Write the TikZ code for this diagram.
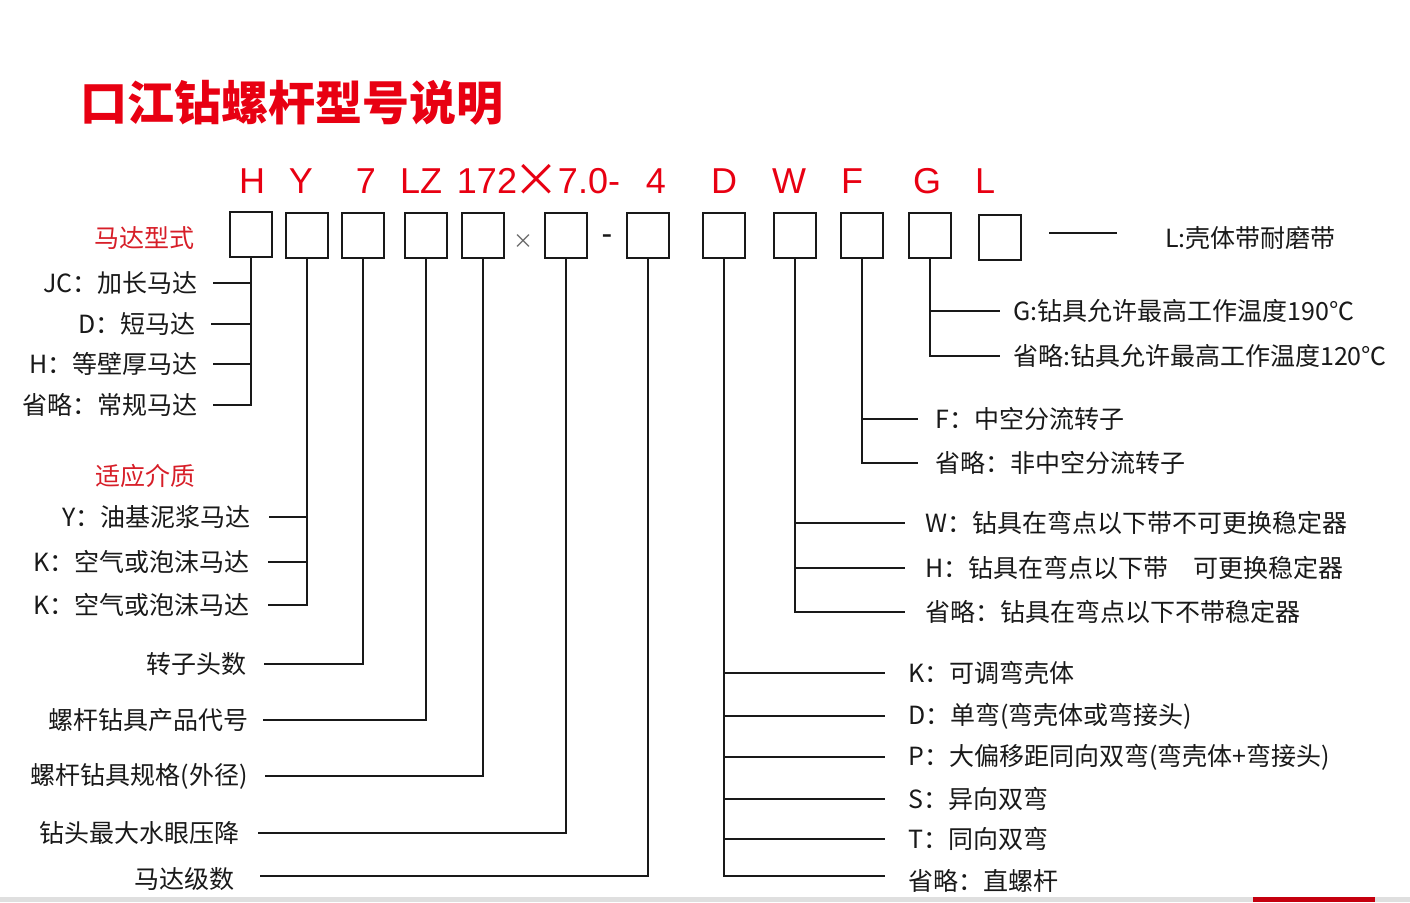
\documentclass[tikz,border=0pt]{standalone}
\usepackage{fontspec}
\setmainfont{Noto Sans CJK SC}
\newfontfamily\arialf{Liberation Sans}
\definecolor{tred}{RGB}{232,0,18}
\definecolor{lred}{RGB}{215,30,40}
\definecolor{ink}{RGB}{25,25,25}
\begin{document}
\begin{tikzpicture}[x=1pt,y=-1pt,
  conn/.style={line width=2pt, ink},
  cbox/.style={draw=ink, line width=2pt, minimum width=42pt, minimum height=45pt, inner sep=0pt},
  lbl/.style={font=\fontsize{25}{25}\selectfont, text=ink, inner sep=0pt},
  head/.style={lbl, text=lred},
  codel/.style={font=\arialf\fontsize{36}{36}\selectfont, text=tred, inner sep=0pt},
  titl/.style={font=\bfseries\fontsize{47}{47}\selectfont, text=tred, inner sep=0pt}]
\useasboundingbox (0,0) rectangle (1410,902);
\fill[white] (0,0) rectangle (1410,902);

% title
\node[titl, anchor=west] (title) at (80,103) {口江钻螺杆型号说明};

% code letters
\node[codel] (cH) at (252,181) {H};
\node[codel] (cY) at (301,181) {Y};
\node[codel] (c7) at (366,181) {7};
\node[codel] (cLZ) at (421,181) {LZ};
\node[codel] (c172) at (487,181) {172};
\node[font=\fontsize{46}{46}\selectfont, text=tred, inner sep=0pt] (cx) at (536,180) {×};
\node[codel] (c70) at (589,181) {7.0-};
\node[codel] (c4) at (656,181) {4};
\node[codel] (cD) at (724,181) {D};
\node[codel] (cW) at (789,181) {W};
\node[codel] (cF) at (852,181) {F};
\node[codel] (cG) at (927,181) {G};
\node[codel] (cL) at (985,181) {L};

% boxes
\node[cbox] (b1) at (250.5,234.5) {};
\node[cbox] (b2) at (306.5,235.5) {};
\node[cbox] (b3) at (363,235.5) {};
\node[cbox] (b4) at (425.5,235.5) {};
\node[cbox] (b5) at (482.5,235.5) {};
\node[font=\fontsize{20}{20}\selectfont, text=gray!80!black, inner sep=0pt] (times) at (523,242) {×};
\node[cbox] (b6) at (566,235.5) {};
\node[font=\arialf\fontsize{32}{32}\selectfont, text=ink, inner sep=0pt] (dash) at (607,240) {-};
\node[cbox] (b7) at (648,235.5) {};
\node[cbox] (b8) at (723.5,235.5) {};
\node[cbox] (b9) at (794.5,235.5) {};
\node[cbox] (b10) at (862,235.5) {};
\node[cbox] (b11) at (929.5,235.5) {};
\node[cbox] (b12) at (1000,237.5) {};

% left headings
\node[head, anchor=east] (h1) at (195,238) {马达型式};
\node[head, anchor=east] (h2) at (196,476) {适应介质};

% left labels: motor type
\node[lbl, anchor=east] (m1) at (198,283) {JC：加长马达};
\node[lbl, anchor=east] (m2) at (196,324) {D：短马达};
\node[lbl, anchor=east] (m3) at (198,364) {H：等壁厚马达};
\node[lbl, anchor=east] (m4) at (198,405) {省略：常规马达};
\draw[conn] (b1.south) |- ([xshift=15pt]m4.east);
\draw[conn] ([xshift=15pt]m1.east) -- (b1.south |- m1.east);
\draw[conn] ([xshift=15pt]m2.east) -- (b1.south |- m2.east);
\draw[conn] ([xshift=15pt]m3.east) -- (b1.south |- m3.east);

% left labels: medium
\node[lbl, anchor=east] (y1) at (251,517) {Y：油基泥浆马达};
\node[lbl, anchor=east] (y2) at (250,562) {K：空气或泡沫马达};
\node[lbl, anchor=east] (y3) at (250,605) {K：空气或泡沫马达};
\draw[conn] (b2.south) |- ([xshift=18pt]y3.east);
\draw[conn] ([xshift=18pt]y1.east) -- (b2.south |- y1.east);
\draw[conn] ([xshift=18pt]y2.east) -- (b2.south |- y2.east);

% single labels
\node[lbl, anchor=east] (l3) at (247,664) {转子头数};
\draw[conn] (b3.south) |- ([xshift=17pt]l3.east);
\node[lbl, anchor=east] (l4) at (249,720) {螺杆钻具产品代号};
\draw[conn] (b4.south) |- ([xshift=14pt]l4.east);
\node[lbl, anchor=east] (l5) at (248,776) {螺杆钻具规格(外径)};
\draw[conn] (b5.south) |- ([xshift=17pt]l5.east);
\node[lbl, anchor=east] (l6) at (240,833) {钻头最大水眼压降};
\draw[conn] (b6.south) |- ([xshift=18pt]l6.east);
\node[lbl, anchor=east] (l7) at (235,879) {马达级数};
\draw[conn] (b7.south) |- ([shift={(25pt,3pt)}]l7.east);

% right: L
\node[lbl, anchor=west] (rL) at (1165,238) {L:壳体带耐磨带};
\draw[conn] ([xshift=27pt]b12.east |- 0,233) -- (1117,233) coordinate (lend);

% right: G
\node[lbl, anchor=west] (g1) at (1013,311) {G:钻具允许最高工作温度190℃};
\node[lbl, anchor=west] (g2) at (1013,356) {省略:钻具允许最高工作温度120℃};
\draw[conn] (b11.south) |- ([xshift=-13pt]g2.west);
\draw[conn] (b11.south |- g1.west) -- ([xshift=-13pt]g1.west);

% right: F
\node[lbl, anchor=west] (f1) at (935,419) {F：中空分流转子};
\node[lbl, anchor=west] (f2) at (935,463) {省略：非中空分流转子};
\draw[conn] (b10.south) |- ([xshift=-17pt]f2.west);
\draw[conn] (b10.south |- f1.west) -- ([xshift=-17pt]f1.west);

% right: W
\node[lbl, anchor=west] (w1) at (925,523) {W：钻具在弯点以下带不可更换稳定器};
\node[lbl, anchor=west] (w2) at (925,568) {H：钻具在弯点以下带\hspace{1em}可更换稳定器};
\node[lbl, anchor=west] (w3) at (925,612) {省略：钻具在弯点以下不带稳定器};
\draw[conn] (b9.south) |- ([xshift=-20pt]w3.west);
\draw[conn] (b9.south |- w1.west) -- ([xshift=-20pt]w1.west);
\draw[conn] (b9.south |- w2.west) -- ([xshift=-20pt]w2.west);

% right: D
\node[lbl, anchor=west] (d1) at (908,673) {K：可调弯壳体};
\node[lbl, anchor=west] (d2) at (908,716) {D：单弯(弯壳体或弯接头)};
\node[lbl, anchor=west] (d3) at (908,757) {P：大偏移距同向双弯(弯壳体+弯接头)};
\node[lbl, anchor=west] (d4) at (908,799) {S：异向双弯};
\node[lbl, anchor=west] (d5) at (908,839) {T：同向双弯};
\node[lbl, anchor=west] (d6) at (908,881) {省略：直螺杆};
\draw[conn] (b8.south) |- ([shift={(-23pt,5pt)}]d6.west);
\draw[conn] (b8.south |- d1.west) -- ([xshift=-23pt]d1.west);
\draw[conn] (b8.south |- d2.west) -- ([xshift=-23pt]d2.west);
\draw[conn] (b8.south |- d3.west) -- ([xshift=-23pt]d3.west);
\draw[conn] (b8.south |- d4.west) -- ([xshift=-23pt]d4.west);
\draw[conn] (b8.south |- d5.west) -- ([xshift=-23pt]d5.west);

% bottom band
\fill[gray!25] (0,897) rectangle (1410,902);
\fill[tred!85!black] (1253,897) rectangle (1375,902);
\end{tikzpicture}
\end{document}
